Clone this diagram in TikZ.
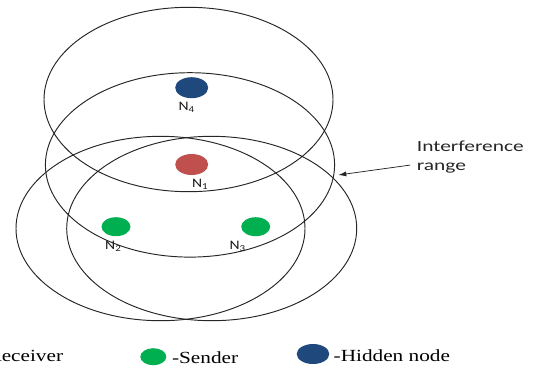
\documentclass[tikz,border=0pt]{standalone}
\usepackage{graphicx}
\usepackage{fontspec}
\setmainfont{Liberation Serif}
\newfontfamily\labelfont{Carlito}
\usetikzlibrary{shapes.geometric,arrows.meta,positioning}

\definecolor{hidblue}{HTML}{1F497D}
\definecolor{rcvred}{HTML}{C0504D}
\definecolor{sndgreen}{HTML}{00B050}

% text set a bit wider than the font gives
\newcommand\widetext[2][1.25]{\scalebox{#1}[1]{#2}}

\tikzset{
  ring/.style={draw=black!85, line width=0.95pt},
  dot/.style={ellipse, inner sep=0pt, minimum width=33pt, minimum height=21pt},
  small dot/.style={dot, minimum width=29pt, minimum height=19pt},
  lbl/.style={font=\labelfont\fontsize{13}{15}\selectfont, text=black!90, inner sep=1pt},
  note/.style={font=\labelfont\fontsize{15.5}{18}\selectfont, text=black!85, inner sep=0pt},
  key/.style={font=\fontsize{17}{20}\selectfont, inner sep=0pt}
}

\begin{document}
\begin{tikzpicture}[x=1pt,y=-1pt]
\useasboundingbox (0,0) rectangle (537,370);
\clip (0,0) rectangle (537,370);

% interference ranges
\draw[ring] (188.5,99.5) ellipse [x radius=144.5, y radius=92.2];
\draw[ring] (190,164.9) ellipse [x radius=144.6, y radius=92.2];
\draw[ring] (160.5,228.5) ellipse [x radius=144.5, y radius=92.2];
\draw[ring] (211.7,228.5) ellipse [x radius=145, y radius=92.2];

% nodes
\node[dot, fill=hidblue, label={[lbl, xshift=-5pt, label distance=3pt]below:\widetext[1.2]{N\textsubscript{4}}}] (n4) at (191.7,87.7) {};
\node[dot, fill=rcvred, label={[lbl, xshift=8.5pt, label distance=3pt]below:\widetext[1.2]{N\textsubscript{1}}}] (n1) at (191.7,164.5) {};
\node[small dot, fill=sndgreen, label={[lbl, xshift=-2.7pt, label distance=3.5pt]below:\widetext[1.2]{N\textsubscript{2}}}] (n2) at (116,226.7) {};
\node[small dot, fill=sndgreen, label={[lbl, xshift=-18pt, label distance=3.5pt]below:\widetext[1.2]{N\textsubscript{3}}}] (n3) at (255.7,226.7) {};

% interference range note
\node[note, anchor=base west] (intf) at (416.7,151.7) {\widetext[1.38]{Interference}};
\node[note, anchor=base west] (rng) at ([yshift=-18.3pt]intf.base west) {\widetext[1.38]{range}};
\coordinate (rim) at (338.3,175);
\draw[-{Latex[length=8pt,width=5pt]}, line width=0.75pt, black!85] ([xshift=-6.5pt,yshift=2.5pt]rng.west) -- (rim);

% legend
\node[key, anchor=base east] (rcvtxt) at (63.3,361.7) {\widetext{-Receiver}};
\node[dot, fill=sndgreen, minimum width=26pt, minimum height=17pt] (snd) at (153.3,356.7) {};
\node[key, right=5.4pt of snd, yshift=-1pt] (sndtxt) {\widetext{-Sender}};
\node[dot, fill=hidblue, minimum width=32.6pt, minimum height=20pt] (hid) at (313,354) {};
\node[key, right=4pt of hid, yshift=-2pt] (hidtxt) {\widetext{-Hidden node}};
\end{tikzpicture}
\end{document}
